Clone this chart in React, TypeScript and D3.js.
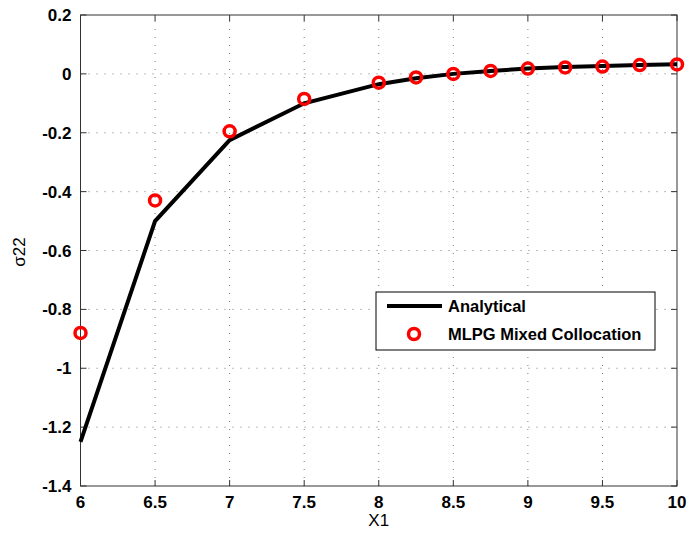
import React from "react";
import * as d3 from "d3";

const xValues = [6, 6.5, 7, 7.5, 8, 8.25, 8.5, 8.75, 9, 9.25, 9.5, 9.75, 10];
const analytical = [-1.25, -0.5, -0.225, -0.1, -0.035, -0.015, 0.0, 0.01, 0.018, 0.023, 0.027, 0.03, 0.033];
const mlpg = [-0.88, -0.43, -0.195, -0.085, -0.03, -0.012, 0.0, 0.01, 0.018, 0.022, 0.025, 0.03, 0.032];
const xTicks = [6, 6.5, 7, 7.5, 8, 8.5, 9, 9.5, 10];
const yTicks = [0.2, 0, -0.2, -0.4, -0.6, -0.8, -1, -1.2, -1.4];

const W = 688, H = 536;
const L = 80.5, R = 677, T = 15, B = 486;

export default function App() {
  const x = d3.scaleLinear().domain([6, 10]).range([L, R]);
  const y = d3.scaleLinear().domain([-1.4, 0.2]).range([B, T]);
  const line = d3.line<number>().x((_, i) => x(xValues[i])).y((d) => y(d));
  const font = "'Liberation Sans', Arial, Helvetica, sans-serif";
  const tickLen = 6;
  return (
    <svg width={W} height={H} style={{ position: "absolute", left: 0, top: 0, background: "#fff" }} fontFamily={font}>
      <rect x={0} y={0} width={W} height={H} fill="#fff" />
      {/* grid */}
      <g stroke="#777" strokeWidth={1} strokeDasharray="1,7">
        {xTicks.slice(1, -1).map((t) => (
          <line key={"gx" + t} x1={x(t)} x2={x(t)} y1={B} y2={T} />
        ))}
        {yTicks.slice(1, -1).map((t) => (
          <line key={"gy" + t} x1={L} x2={R} y1={y(t)} y2={y(t)} />
        ))}
      </g>
      {/* ticks */}
      <g stroke="#333" strokeWidth={1}>
        {xTicks.map((t) => (
          <g key={"tx" + t}>
            <line x1={x(t)} x2={x(t)} y1={B} y2={B - tickLen} />
            <line x1={x(t)} x2={x(t)} y1={T} y2={T + tickLen} />
          </g>
        ))}
        {yTicks.map((t) => (
          <g key={"ty" + t}>
            <line x1={L} x2={L + tickLen} y1={y(t)} y2={y(t)} />
            <line x1={R} x2={R - tickLen} y1={y(t)} y2={y(t)} />
          </g>
        ))}
      </g>
      <rect x={L} y={T} width={R - L} height={B - T} fill="none" stroke="#333" strokeWidth={1} />
      {/* tick labels */}
      <g fontSize={17} fontWeight="bold" fill="#000">
        {xTicks.map((t) => (
          <text key={"lx" + t} x={x(t)} y={B + 22} textAnchor="middle">{String(t)}</text>
        ))}
        {yTicks.map((t) => (
          <text key={"ly" + t} x={L - 9} y={y(t) + 6} textAnchor="end">{String(t)}</text>
        ))}
      </g>
      {/* data */}
      <path d={line(analytical) || ""} fill="none" stroke="#000" strokeWidth={4} strokeLinejoin="miter" />
      <g fill="none" stroke="#ff0000" strokeWidth={3.5}>
        {mlpg.map((v, i) => (
          <circle key={"m" + i} cx={x(xValues[i])} cy={y(v)} r={5.5} />
        ))}
      </g>
      {/* axis labels */}
      <text x={(L + R) / 2} y={526} textAnchor="middle" fontSize={17} fill="#000">X1</text>
      <text transform={`translate(25,252) rotate(-90)`} textAnchor="middle" fontSize={17} fill="#000">σ22</text>
      {/* legend */}
      <g>
        <rect x={376} y={292} width={279} height={58} fill="#fff" stroke="#000" strokeWidth={1} />
        <line x1={387} x2={442} y1={306} y2={306} stroke="#000" strokeWidth={4} />
        <text x={448} y={312} fontSize={16.5} fontWeight="bold" fill="#000">Analytical</text>
        <circle cx={414} cy={334} r={5.5} fill="none" stroke="#ff0000" strokeWidth={3.5} />
        <text x={448} y={340} fontSize={16.5} fontWeight="bold" fill="#000">MLPG Mixed Collocation</text>
      </g>
    </svg>
  );
}
